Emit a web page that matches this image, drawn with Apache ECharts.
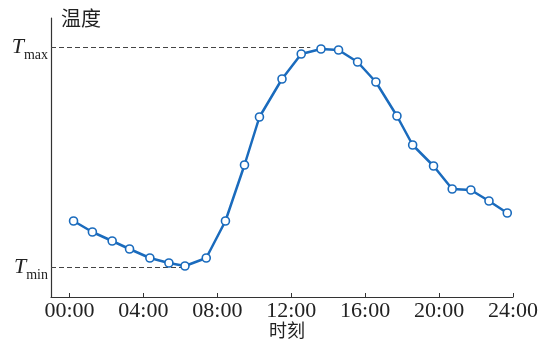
<!DOCTYPE html>
<html>
<head>
<meta charset="utf-8">
<script src="https://cdn.jsdelivr.net/npm/echarts@6/dist/echarts.min.js"></script>
<style>
  html, body { margin: 0; padding: 0; background: #fff; }
  #chart { width: 548px; height: 347px; }
</style>
</head>
<body>
<div id="chart"></div>
<script>
// Hour of day of each reading
const hours = [0.22, 1.24, 2.31, 3.25, 4.35, 5.38, 6.25, 7.40, 8.44, 9.47, 10.28, 11.50,
               12.54, 13.61, 14.56, 15.59, 16.58, 17.72, 18.57, 19.70, 20.71, 21.72, 22.70, 23.69];
// Temperature (relative units)
const temps = [7.6, 6.5, 5.6, 4.8, 3.9, 3.4, 3.1, 3.9, 7.6, 13.2, 18.0, 21.8,
               24.3, 24.8, 24.7, 23.5, 21.5, 18.1, 15.2, 13.1, 10.8, 10.7, 9.6, 8.4];
// Daily extremes and where their guide lines stop
const tMax = 25.0, tMaxEnd = 13.03;
const tMin = 3.0, tMinEnd = 6.15;
// Time-of-day tick labels
const hourTicks = [0, 4, 8, 12, 16, 20, 24];

const serif = '"Liberation Serif", "DejaVu Serif", serif';
const cjk = '"Noto Sans CJK SC", sans-serif';

const chart = echarts.init(document.getElementById('chart'), null, { renderer: 'canvas' });

const dashStyle = { color: '#444', width: 1.2, type: [5, 3] };

chart.setOption({
  animation: false,
  backgroundColor: '#fff',
  grid: { left: 51, right: 35, top: 18, bottom: 50, containLabel: false, outerBoundsMode: 'none' },
  xAxis: {
    type: 'value',
    min: -1,
    max: 24,
    name: '时刻',
    nameLocation: 'middle',
    nameGap: 33,
    nameMoveOverlap: false,
    nameTextStyle: { fontFamily: cjk, fontSize: 18, color: '#222', verticalAlign: 'middle', padding: [0, 0, 0, 10] },
    axisLine: { show: true, onZero: false, lineStyle: { color: '#333', width: 1.2 } },
    axisTick: { show: true, inside: true, length: 4, customValues: hourTicks, lineStyle: { color: '#333' } },
    axisLabel: {
      customValues: hourTicks,
      fontFamily: serif,
      fontSize: 22,
      color: '#222',
      margin: 3,
      formatter: v => String(v).padStart(2, '0') + ':00'
    },
    splitLine: { show: false }
  },
  yAxis: {
    type: 'value',
    min: 0,
    max: 27.9,
    name: '温度',
    nameLocation: 'end',
    nameGap: 0,
    nameMoveOverlap: false,
    nameTextStyle: { fontFamily: cjk, fontSize: 20, color: '#222', align: 'left', verticalAlign: 'middle', padding: [0, 0, 0, 10] },
    axisLine: { show: true, onZero: false, lineStyle: { color: '#333', width: 1.2 } },
    axisTick: { show: false },
    splitLine: { show: false },
    axisLabel: {
      customValues: [tMin, tMax],
      margin: 3,
      formatter: v => v === tMax ? '{t|T}{s|max}' : '{t|T}{s|min}',
      rich: {
        t: { fontFamily: serif, fontStyle: 'italic', fontSize: 22, lineHeight: 22, color: '#222', verticalAlign: 'top' },
        s: { fontFamily: serif, fontSize: 14, lineHeight: 14, color: '#222', verticalAlign: 'top', padding: [12, 0, 0, 0] }
      }
    }
  },
  series: [{
    type: 'line',
    data: hours.map((h, i) => [h, temps[i]]),
    symbol: 'circle',
    symbolSize: 8,
    lineStyle: { color: '#1a6bbd', width: 2.5 },
    itemStyle: { color: '#fff', borderColor: '#1a6bbd', borderWidth: 1.6 },
    z: 3,
    markLine: {
      silent: true,
      symbol: 'none',
      label: { show: false },
      lineStyle: dashStyle,
      z: 1,
      data: [
        [{ coord: [-1, tMax] }, { coord: [tMaxEnd, tMax] }],
        [{ coord: [-1, tMin] }, { coord: [tMinEnd, tMin] }]
      ]
    }
  }]
});
</script>
</body>
</html>
